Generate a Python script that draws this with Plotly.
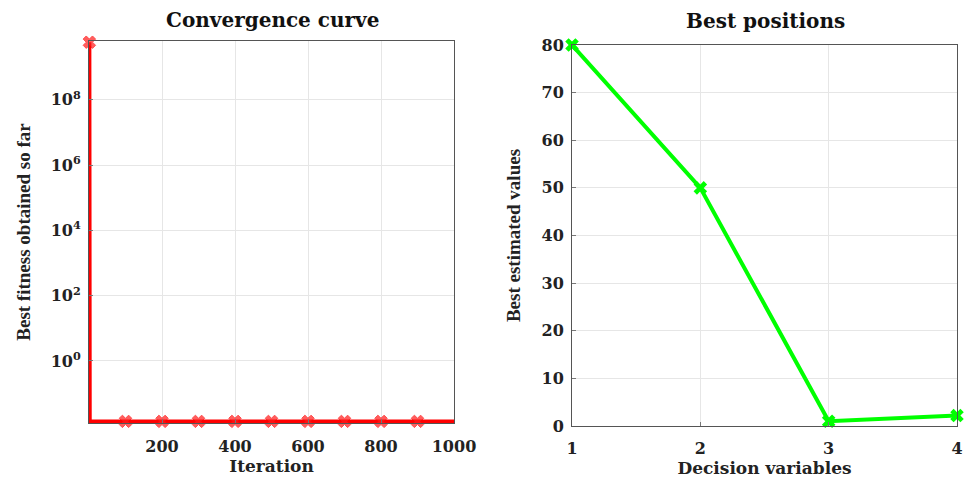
import plotly.graph_objects as go

# Convergence history: iteration checkpoints and best fitness so far
conv_iter = [1, 2, 100, 200, 300, 400, 500, 600, 700, 800, 900, 1000]
conv_fit = [5.8e9, 0.0141, 0.0141, 0.0141, 0.0141, 0.0141, 0.0141,
            0.0141, 0.0141, 0.0141, 0.0141, 0.0141]
conv_marked = [True, False, True, True, True, True, True, True, True, True, True, False]

# Best position found, one value per decision variable
var_index = [1, 2, 3, 4]
best_pos = [80.0, 50.0, 1.0, 2.2]

# Axis ticks
conv_xticks = [200, 400, 600, 800, 1000]
conv_yticks = [1, 1e2, 1e4, 1e6, 1e8]
conv_ytext = ["10<sup>0</sup>", "10<sup>2</sup>", "10<sup>4</sup>", "10<sup>6</sup>", "10<sup>8</sup>"]
pos_xticks = [1, 2, 3, 4]
pos_yticks = [0, 10, 20, 30, 40, 50, 60, 70, 80]

W, H = 965, 481
TICK_FONT = dict(family="DejaVu Serif", size=16, color="#222", weight="bold")
XTITLE_FONT = dict(family="DejaVu Serif", size=17, color="#222", weight="bold")
YTITLE_FONT = dict(family="Liberation Serif", size=19, color="#222", weight="bold")
TITLE_FONT = dict(family="DejaVu Serif", size=20, color="#111", weight="bold")
GRID = "#e6e6e6"

fig = go.Figure()

fig.add_trace(go.Scatter(
    x=conv_iter, y=conv_fit, mode="lines+markers",
    line=dict(color="#ff0000", width=4),
    marker=dict(symbol="x", color="#ff1a1a",
                size=[11 if m else 0 for m in conv_marked]),
    cliponaxis=False, xaxis="x", yaxis="y", showlegend=False,
))

fig.add_trace(go.Scatter(
    x=var_index, y=best_pos, mode="lines+markers",
    line=dict(color="#00ff00", width=4),
    marker=dict(symbol="x", color="#00ff00", size=12),
    cliponaxis=False, xaxis="x2", yaxis="y2", showlegend=False,
))


def px_x(a, b):
    return [a / W, b / W]


def px_y(top, bottom):
    return [1 - bottom / H, 1 - top / H]


common = dict(showline=True, mirror=True, linecolor="#555", linewidth=1,
              ticks="inside", ticklen=4, tickcolor="#777",
              showgrid=True, gridcolor=GRID, gridwidth=1,
              zeroline=False, tickfont=TICK_FONT, automargin=False)

fig.update_layout(
    width=W, height=H, autosize=False,
    margin=dict(l=0, r=0, t=0, b=0, pad=0),
    paper_bgcolor="white", plot_bgcolor="white",
    xaxis=dict(domain=px_x(89, 454), range=[0, 1000], anchor="y",
               tickmode="array", tickvals=conv_xticks,
               title=dict(text="Iteration", font=XTITLE_FONT, standoff=2),
               ticklabelstandoff=9, **common),
    yaxis=dict(domain=px_y(41, 423), type="log", range=[-1.9, 9.8], anchor="x",
               tickmode="array", tickvals=conv_yticks, ticktext=conv_ytext,
               title=dict(text="Best fitness obtained so far", font=YTITLE_FONT),
               ticklabelstandoff=4, **common),
    xaxis2=dict(domain=px_x(572, 957), range=[1, 4], anchor="y2",
                tickmode="array", tickvals=pos_xticks,
                title=dict(text="Decision variables", font=XTITLE_FONT, standoff=2),
                ticklabelstandoff=8, **common),
    yaxis2=dict(domain=px_y(45, 426), range=[0, 80], anchor="x2",
                tickmode="array", tickvals=pos_yticks,
                title=dict(text="Best estimated values", font=YTITLE_FONT),
                ticklabelstandoff=4, **common),
    annotations=[
        dict(text="Convergence curve", x=272 / W, y=1 - 20 / H, xref="paper", yref="paper",
             showarrow=False, font=TITLE_FONT, xanchor="center", yanchor="middle"),
        dict(text="Best positions", x=765 / W, y=1 - 21 / H, xref="paper", yref="paper",
             showarrow=False, font=TITLE_FONT, xanchor="center", yanchor="middle"),
    ],
)

# Remove the default body margin so the figure fills the page exactly
fig.write_html("out.html", post_script="document.body.style.margin='0';")
